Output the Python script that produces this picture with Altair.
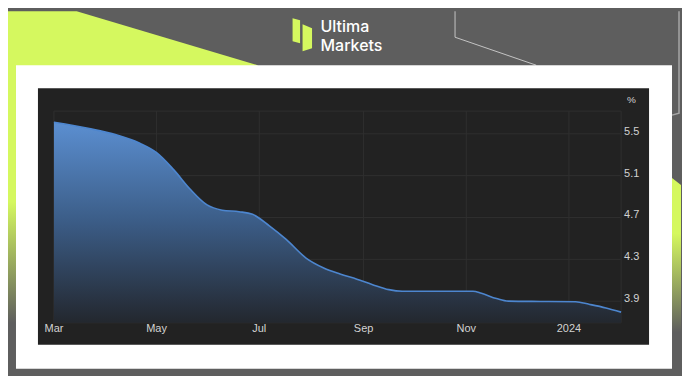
import altair as alt
import pandas as pd

# ---------------- data ----------------
dates = ["2023-03-01", "2023-03-22", "2023-04-07", "2023-04-21", "2023-05-01",
         "2023-05-11", "2023-05-21", "2023-05-31", "2023-06-09", "2023-06-19",
         "2023-06-27", "2023-07-07", "2023-07-17", "2023-07-29", "2023-08-08",
         "2023-08-18", "2023-08-28", "2023-09-06", "2023-09-16", "2023-09-24",
         "2023-10-15", "2023-11-05", "2023-11-10", "2023-11-19", "2023-11-26",
         "2023-12-15", "2024-01-05", "2024-01-13", "2024-01-23", "2024-02-01"]
values = [5.61, 5.55, 5.49, 5.41, 5.32,
          5.16, 4.97, 4.82, 4.77, 4.755,
          4.73, 4.62, 4.49, 4.31, 4.22,
          4.16, 4.11, 4.06, 4.01, 3.995,
          3.995, 3.995, 3.975, 3.925, 3.90,
          3.897, 3.895, 3.87, 3.835, 3.795]

x_tick_dates = ["2023-03-01", "2023-05-01", "2023-07-01", "2023-09-01", "2023-11-01", "2024-01-01"]
x_tick_labels = ["Mar", "May", "Jul", "Sep", "Nov", "2024"]
y_ticks = [5.5, 5.1, 4.7, 4.3, 3.9]
y_unit = ["%"]
brand_lines = ["Ultima", "Markets"]

# ---------------- styling ----------------
W, H = 674, 365
OX, OY = 8, 8
GRAY = "#5e5e5e"
LIME = "#d5f85f"
DARK = "#222222"
GRID = "#2f2f2f"
LABEL = "#d2d2d2"
FONT = "Liberation Sans"

DX = alt.Scale(domain=[OX, OX + W], range=[0, W], zero=False, nice=False)
DY = alt.Scale(domain=[OY, OY + H], range=[0, H], zero=False, nice=False)

Y_MIN, Y_MAX = 3.693, 5.717
xs = alt.Scale(type="utc",
               domain=[alt.DateTime(year=2023, month=3, date=1, utc=True),
                       alt.DateTime(year=2024, month=2, date=1, utc=True)],
               range=[54 - OX, 622 - OX], nice=False)
ys = alt.Scale(domain=[Y_MIN, Y_MAX], range=[320 - OY, 108 - OY], zero=False, nice=False)


def deco_rect(x, x2, y, y2, fill):
    df = pd.DataFrame({"x": [x], "x2": [x2], "y": [y], "y2": [y2]})
    return alt.Chart(df).mark_rect(color=fill).encode(
        x=alt.X("x:Q", scale=DX, axis=None), x2="x2:Q",
        y=alt.Y("y:Q", scale=DY, axis=None), y2="y2:Q")


def deco_area(xv, yt, yb, fill):
    df = pd.DataFrame({"x": xv, "y": yt, "y2": yb})
    return alt.Chart(df).mark_area(color=fill, strokeWidth=0).encode(
        x=alt.X("x:Q", scale=DX, axis=None),
        y=alt.Y("y:Q", scale=DY, axis=None), y2="y2:Q")


def deco_line(xv, yv, col, w):
    df = pd.DataFrame({"x": xv, "y": yv, "o": list(range(len(xv)))})
    return alt.Chart(df).mark_line(color=col, strokeWidth=w).encode(
        x=alt.X("x:Q", scale=DX, axis=None),
        y=alt.Y("y:Q", scale=DY, axis=None), order="o:Q")


def vgrad(stops, colors):
    return alt.Gradient(gradient="linear", x1=0, y1=0, x2=0, y2=1,
                        stops=[alt.GradientStop(offset=o, color=c) for o, c in zip(stops, colors)])


layers = []
# lime triangle top-left
layers.append(deco_area([8, 76.8, 258], [8, 8, 62], [64, 64, 64], LIME))
# left strip with fade
layers.append(deco_rect(8, 16, 62, 373, vgrad([0, 0.44, 0.83, 1], [LIME, LIME, GRAY, GRAY])))
# right strip with fade
layers.append(deco_area([673, 682], [175, 182], [373, 373], vgrad([0, 0.28, 0.78, 1], [LIME, LIME, GRAY, GRAY])))
# thin outline lines top-right
layers.append(deco_line([455.7, 455.7, 537], [8, 34, 62], "#c4c4c4", 1))
layers.append(deco_line([680, 680, 673], [8, 110, 112], "#a6a6a6", 1.5))
# logo icon
layers.append(deco_area([293, 300.5], [15, 17], [38, 40], LIME))
layers.append(deco_area([303, 312.5], [21, 25], [48, 45], LIME))
# logo text
logo_df = pd.DataFrame({"t": brand_lines, "x": [321, 321], "y": [29, 48]})
layers.append(alt.Chart(logo_df).mark_text(align="left", baseline="alphabetic", color="white",
                                           font="Inter", fontSize=16, fontWeight=500).encode(
    x=alt.X("x:Q", scale=DX, axis=None), y=alt.Y("y:Q", scale=DY, axis=None), text="t:N"))
# white panel and dark chart box
layers.append(deco_rect(16, 673, 62, 366, "#ffffff"))
layers.append(deco_rect(38, 650, 85, 342, DARK))

# ---------------- data layers ----------------
df = pd.DataFrame({"date": dates, "value": values})
xt_df = pd.DataFrame({"date": x_tick_dates, "label": x_tick_labels})
grid_x = pd.DataFrame({"date": x_tick_dates + ["2024-02-01"]})
grid_y = pd.DataFrame({"v": y_ticks + [Y_MIN, Y_MAX]})
yt_df = pd.DataFrame({"v": y_ticks, "label": [f"{v:.1f}" for v in y_ticks]})

d0 = alt.DateTime(year=2023, month=3, date=1, utc=True)
d1 = alt.DateTime(year=2024, month=2, date=1, utc=True)

layers.append(alt.Chart(grid_y).mark_rule(color=GRID, strokeWidth=1).encode(
    y=alt.Y("v:Q", scale=ys, axis=None),
    x=alt.X(datum=d0, type="temporal", scale=xs, axis=None),
    x2=alt.X2(datum=d1)))
layers.append(alt.Chart(grid_x).mark_rule(color=GRID, strokeWidth=1).encode(
    x=alt.X("date:T", scale=xs, axis=None),
    y=alt.Y(datum=Y_MIN, type="quantitative", scale=ys, axis=None),
    y2=alt.Y2(datum=Y_MAX)))

area_grad = vgrad([0, 0.5, 1], ["#5b8fd1", "#3b5c86", "#23272e"])
layers.append(alt.Chart(df).mark_area(color=area_grad, interpolate="monotone").encode(
    x=alt.X("date:T", scale=xs, axis=None),
    y=alt.Y("value:Q", scale=ys, axis=None),
    y2=alt.Y2(datum=Y_MIN)))
layers.append(alt.Chart(df).mark_line(color="#4d86cf", strokeWidth=1.6, interpolate="monotone").encode(
    x=alt.X("date:T", scale=xs, axis=None),
    y=alt.Y("value:Q", scale=ys, axis=None)))

layers.append(alt.Chart(xt_df).mark_text(font=FONT, fontSize=11, color=LABEL, baseline="middle").encode(
    x=alt.X("date:T", scale=xs, axis=None),
    y=alt.value(326 - OY),
    text="label:N"))
layers.append(alt.Chart(yt_df).mark_text(font=FONT, fontSize=11, color=LABEL, align="left",
                                         baseline="middle", dy=-2).encode(
    y=alt.Y("v:Q", scale=ys, axis=None),
    x=alt.value(625 - OX),
    text="label:N"))
unit_df = pd.DataFrame({"t": y_unit})
layers.append(alt.Chart(unit_df).mark_text(font=FONT, fontSize=10, color=LABEL, align="left",
                                           baseline="middle").encode(
    x=alt.value(628 - OX), y=alt.value(97 - OY), text="t:N"))

chart = alt.layer(*layers).resolve_scale(x="independent", y="independent").properties(
    width=W, height=H, padding=0, background=GRAY
).configure_view(strokeWidth=0)

chart.save("out.html", embed_options={"renderer": "svg", "actions": False})
